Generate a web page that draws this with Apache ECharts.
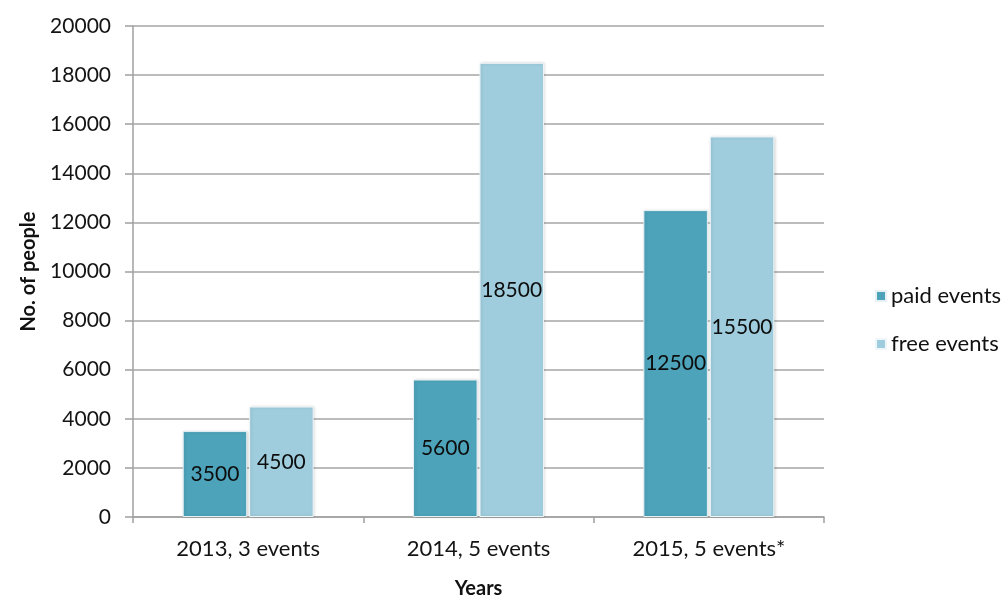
<!DOCTYPE html>
<html>
<head>
<meta charset="utf-8">
<script src="https://cdn.jsdelivr.net/npm/echarts@6/dist/echarts.min.js"></script>
<style>html,body{margin:0;padding:0;background:#fff}#c{width:1005px;height:599px}</style>
</head>
<body>
<div id="c"></div>
<script>
var categories = ['2013, 3 events', '2014, 5 events', '2015, 5 events*'];
var paidEvents = [3500, 5600, 12500];
var freeEvents = [4500, 18500, 15500];
var yTicks = {min: 0, max: 20000, interval: 2000};

var FONT = 'Lato';
var chart = echarts.init(document.getElementById('c'), null, {renderer: 'canvas'});
var labelCfg = {show: true, position: 'inside', color: '#0d0d0d', fontFamily: FONT, fontSize: 21};
chart.setOption({
  animation: false,
  textStyle: {fontFamily: FONT},
  grid: {left: 133, right: 181, top: 26, bottom: 82, outerBoundsMode: 'none', containLabel: false},
  legend: {
    orient: 'vertical', left: 870, top: 280, itemGap: 26,
    itemWidth: 10, itemHeight: 10, icon: 'rect',
    textStyle: {fontFamily: FONT, fontSize: 22, color: '#111'},
    data: ['paid events', 'free events']
  },
  xAxis: {
    type: 'category', data: categories,
    name: 'Years', nameLocation: 'middle', nameGap: 62,
    nameTextStyle: {fontFamily: FONT, fontSize: 20, fontWeight: 'bold', color: '#111'},
    axisLine: {lineStyle: {color: '#a0a0a0', width: 1.5}},
    axisTick: {show: true, alignWithLabel: false, length: 6, lineStyle: {color: '#a0a0a0', width: 1.5}},
    axisLabel: {fontFamily: FONT, fontSize: 22, color: '#141414', margin: 21}
  },
  yAxis: {
    type: 'value', min: yTicks.min, max: yTicks.max, interval: yTicks.interval,
    name: 'No. of people', nameLocation: 'middle', nameGap: 94, nameRotate: 90,
    nameTextStyle: {fontFamily: FONT, fontSize: 20, fontWeight: 'bold', color: '#111'},
    axisLine: {show: true, lineStyle: {color: '#a0a0a0', width: 1.5}},
    axisTick: {show: true, length: 8, lineStyle: {color: '#a0a0a0', width: 1.5}},
    axisLabel: {fontFamily: FONT, fontSize: 21, color: '#141414', margin: 22,
      formatter: function (v) { return String(v); }},
    splitLine: {lineStyle: {color: '#a6a6a6', width: 1.5}}
  },
  series: [
    {
      name: 'paid events', type: 'bar', data: paidEvents,
      barWidth: '28%', barGap: '3%',
      itemStyle: {color: '#4ca3ba', borderColor: '#e6f1f4', borderWidth: 1,
        shadowColor: 'rgba(0,0,0,0.15)', shadowBlur: 3, shadowOffsetX: 1, shadowOffsetY: 0},
      label: labelCfg
    },
    {
      name: 'free events', type: 'bar', data: freeEvents,
      barWidth: '28%', barGap: '3%',
      itemStyle: {color: '#9fcddd', borderColor: '#eef6f9', borderWidth: 1,
        shadowColor: 'rgba(0,0,0,0.15)', shadowBlur: 3, shadowOffsetX: 1, shadowOffsetY: 0},
      label: labelCfg
    }
  ]
});
</script>
</body>
</html>
